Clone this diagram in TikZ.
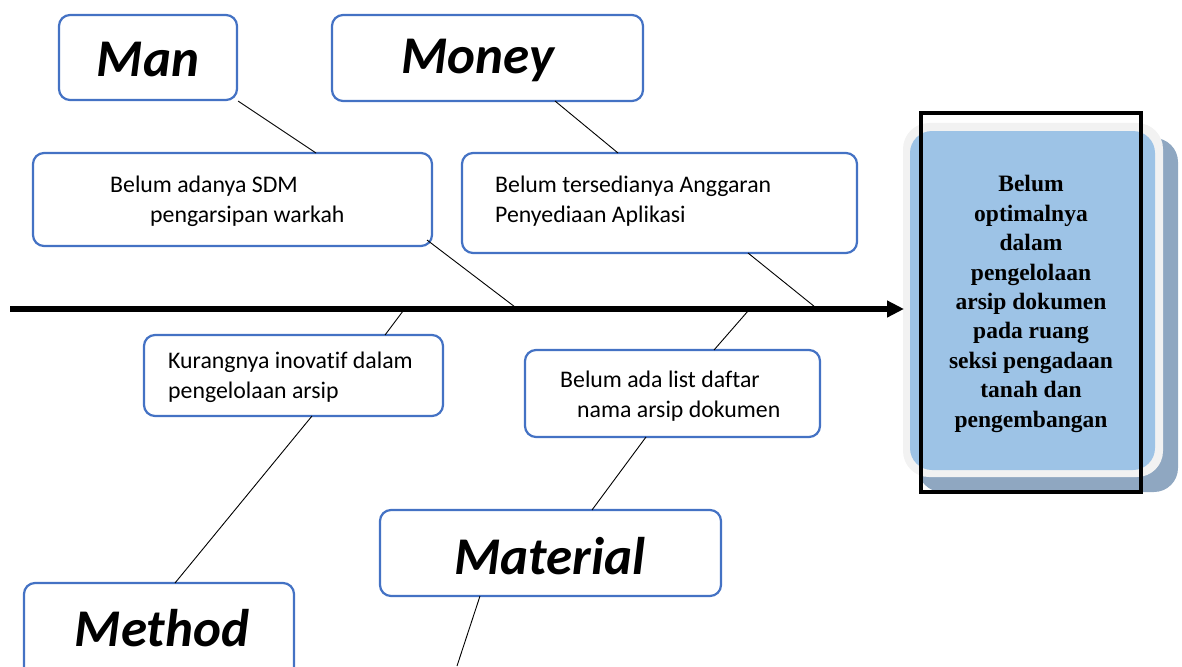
\documentclass[tikz,border=0pt]{standalone}
\usepackage{fontspec}
\setmainfont{Carlito}[Ligatures={NoCommon}]
\newfontfamily\timesbf{Liberation Serif}
\usetikzlibrary{arrows.meta,calc}
\definecolor{boxblue}{RGB}{68,114,196}
\definecolor{fillblue}{RGB}{157,195,230}
\definecolor{shadowcol}{RGB}{143,167,193}
\definecolor{glowgray}{RGB}{242,242,242}
\begin{document}
\begin{tikzpicture}[x=1pt,y=-1pt,
  cbox/.style={draw=boxblue,line width=2.2pt,rounded corners=11pt,fill=white,inner sep=0pt},
  cat/.style={font=\fontsize{53}{60}\selectfont\bfseries\itshape,inner sep=0pt},
  cause/.style={font=\fontsize{23.8}{30}\selectfont,align=left,anchor=west,inner sep=0pt},
  bone/.style={line width=0.9pt,black}]
\useasboundingbox (0,0) rectangle (1182,666);
% boxes
\node[cbox,minimum width=178pt,minimum height=85pt] (man) at (148,57.5) {};
\node[cbox,minimum width=311pt,minimum height=86pt] (money) at (487.5,58) {};
\node[cbox,minimum width=399pt,minimum height=93pt] (sdm) at (232.5,199.5) {};
\node[cbox,minimum width=395pt,minimum height=100pt] (ang) at (659.5,203) {};
\node[cbox,minimum width=299pt,minimum height=81pt] (kur) at (293.5,375.5) {};
\node[cbox,minimum width=295pt,minimum height=87pt] (list) at (672.5,393.5) {};
\node[cbox,minimum width=341pt,minimum height=86pt] (mat) at (550.5,553) {};
\node[cbox,minimum width=270pt,minimum height=100pt] (meth) at (159,633) {};
% category texts
\node[cat] (tman) at (148,60) {Man};
\node[cat] (tmoney) at (478,60) {Money};
\node[cat] (tmat) at (550,556) {Material};
\node[cat] (tmeth) at (162,628) {Method};
% cause texts
\node[cause] (tsdm) at (110,201) {Belum adanya SDM\\\hspace*{40pt}pengarsipan warkah};
\node[cause] (tang) at (495,201) {Belum tersedianya Anggaran\\Penyediaan Aplikasi};
\node[cause] (tkur) at (168,377) {Kurangnya inovatif dalam\\pengelolaan arsip};
\node[cause] (tlist) at (560,396) {Belum ada list daftar\\\hspace*{17pt}nama arsip dokumen};
% effect box
\fill[shadowcol,rounded corners=24pt] (918,138) rectangle (1178,492);
\fill[glowgray,rounded corners=26pt] (903,123) rectangle (1163,477);
\fill[fillblue,rounded corners=22pt] (910,131) rectangle (1155,470);
\node[draw=black,line width=3.4pt,minimum width=220pt,minimum height=379pt,inner sep=0pt] (eff) at (1031,302.5) {};
\node[font=\timesbf\bfseries\fontsize{23.5}{29.4}\selectfont,align=center,inner sep=0pt] (teff) at (1031,304)
  {Belum\\optimalnya\\dalam\\pengelolaan\\arsip dokumen\\pada ruang\\seksi pengadaan\\tanah dan\\pengembangan};
% spine
\coordinate (tail) at (10,309);
\coordinate (head) at (904,309);
\draw[line width=5.5pt,-{Triangle[length=17pt,width=16pt]}] (tail) -- (head);
% attachment points
\coordinate (p1) at (316,153);
\coordinate (p2) at (618,153);
\coordinate (s1) at (515,307);
\coordinate (s2) at (815,307);
\coordinate (s3) at (403,311);
\coordinate (s4) at (748,311);
\coordinate (k1) at (385,335);
\coordinate (k2) at (312,416);
\coordinate (m1) at (175,583);
\coordinate (l1) at (714,350);
\coordinate (l2) at (646,437);
\coordinate (t1) at (592,510);
\coordinate (t2) at (480,596);
\coordinate (endm) at (457,666);
\coordinate (sd) at (427,240);
\coordinate (an) at (748,253);
\coordinate (mo) at (555,101);
% bones
\draw[bone] (man.south east) -- (p1);
\draw[bone] (mo) -- (p2);
\draw[bone] (sd) -- (s1);
\draw[bone] (an) -- (s2);
\draw[bone] (s3) -- (k1);
\draw[bone] (k2) -- (m1);
\draw[bone] (s4) -- (l1);
\draw[bone] (l2) -- (t1);
\draw[bone] (t2) -- (endm);
\end{tikzpicture}
\end{document}
